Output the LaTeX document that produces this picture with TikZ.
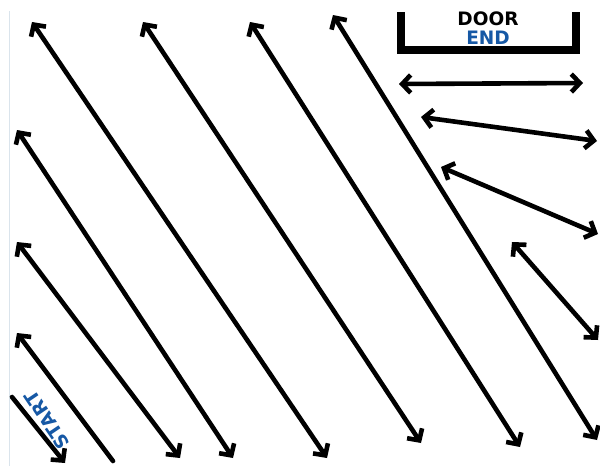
\documentclass[tikz,border=0pt]{standalone}
\usepackage{fontspec}
\newfontfamily\signfont{DejaVu Sans}
\usetikzlibrary{arrows.meta}
\definecolor{signblue}{RGB}{22,88,165}
\definecolor{edgeline}{RGB}{218,228,236}
\tikzset{
  headtip/.tip={Straight Barb[length=8.5pt,width=18pt]},
  arr/.style={line width=4.6pt, black, line cap=round, line join=round},
  both/.style={arr, headtip-headtip},
  fwd/.style={arr, -headtip},
  back/.style={arr, headtip-},
  doorwall/.style={line width=8pt, black, line join=miter},
  signtext/.style={font=\signfont\bfseries\fontsize{18.5}{18.5}\selectfont, inner sep=0pt, anchor=center}
}
\begin{document}
\begin{tikzpicture}[x=1pt,y=-1pt]
\useasboundingbox (0,0) rectangle (600,466);
\fill[white] (0,0) rectangle (600,466);
% faint left border
\coordinate (bt) at (9.5,11);
\coordinate (bb) at (9.5,466);
\draw[edgeline, line width=1pt] (bt) -- (bb);
% door
\coordinate (dl) at (401,12);
\coordinate (dbl) at (401,50);
\coordinate (dbr) at (576,50);
\coordinate (dr) at (576,12);
\draw[doorwall] (dl) -- (dbl) -- (dbr) -- (dr);
\node[signtext, text=black] (door) at (488,18.5) {DOOR};
\node[signtext, text=signblue] (endlbl) at (488,37.5) {END};
% start arrow and label
\coordinate (s1) at (12,397);
\coordinate (s2) at (65,463);
\draw[fwd] (s1) -- (s2);
\node[signtext, text=signblue, rotate=124] (start) at (47,420) {START};
% diagonal arrows
\coordinate (a2t) at (17,333);  \coordinate (a2b) at (113,461);
\coordinate (a3t) at (17,242);  \coordinate (a3b) at (180,458);
\coordinate (a4t) at (17,130);  \coordinate (a4b) at (233,458);
\coordinate (a5t) at (32,22);   \coordinate (a5b) at (327,458);
\coordinate (a6t) at (143,22);  \coordinate (a6b) at (421,443);
\coordinate (a7t) at (250,22);  \coordinate (a7b) at (520,447);
\coordinate (a8t) at (333,15);  \coordinate (a8b) at (597,440);
\coordinate (a9t) at (512,242); \coordinate (a9b) at (598,340);
\draw[back] (a2t) -- (a2b);
\draw[both] (a3t) -- (a3b);
\draw[both] (a4t) -- (a4b);
\draw[both] (a5t) -- (a5b);
\draw[both] (a6t) -- (a6b);
\draw[both] (a7t) -- (a7b);
\draw[both] (a8t) -- (a8b);
\draw[both] (a9t) -- (a9b);
% arrows near the door
\coordinate (h1l) at (399,84);  \coordinate (h1r) at (583,83);
\coordinate (h2l) at (421,117); \coordinate (h2r) at (597,141);
\coordinate (h3l) at (441,167); \coordinate (h3r) at (598,234);
\draw[both] (h1l) -- (h1r);
\draw[both] (h2l) -- (h2r);
\draw[both] (h3l) -- (h3r);
\end{tikzpicture}
\end{document}
